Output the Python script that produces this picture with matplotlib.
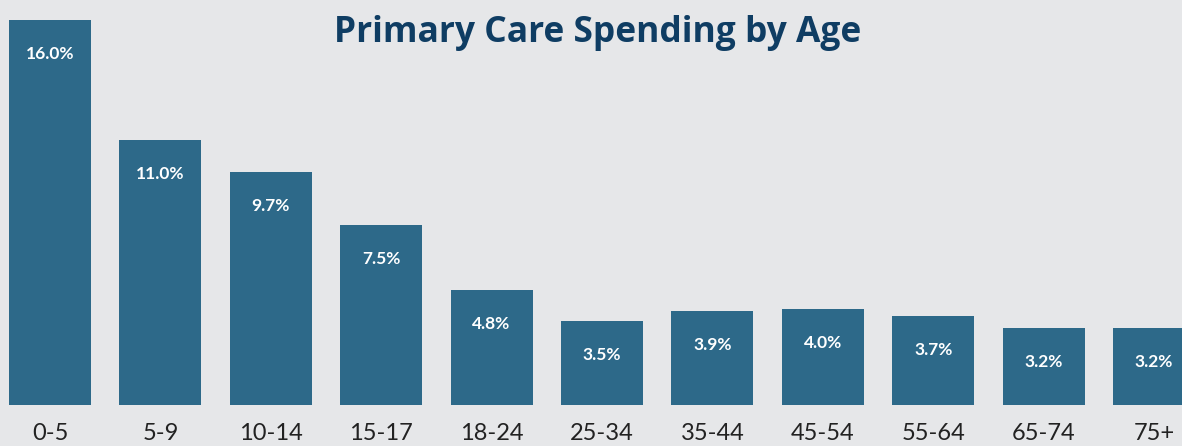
import matplotlib
matplotlib.use("Agg")
import matplotlib.pyplot as plt
import numpy as np

# Datos
edades = ['0-5', '5-9', '10-14', '15-17', '18-24', '25-34', '35-44',
          '45-54', '55-64', '65-74', '75+']
gasto = [16.0, 11.0, 9.7, 7.5, 4.8, 3.5, 3.9, 4.0, 3.7, 3.2, 3.2]

fondo = '#e6e7e9'
color_barra = '#2d6989'

fig = plt.figure(figsize=(11.82, 4.46), dpi=100, facecolor=fondo)
ax = fig.add_axes([0, 41 / 446, 1, 405 / 446])
ax.set_facecolor(fondo)

x = np.arange(len(edades))
ax.bar(x, gasto, width=0.743, color=color_barra)

# Etiquetas dentro de las barras
for xi, v in zip(x, gasto):
    ax.annotate(f'{v:.1f}%', xy=(xi, v), xytext=(0, -34), textcoords='offset pixels',
                ha='center', va='center', color='white', fontsize=12.5,
                fontweight='bold', family='Lato')

ax.set_xlim(-50 / 110.4, (1182 - 50) / 110.4)
ax.set_ylim(0, 405 / 24.06)
ax.set_xticks(x)
ax.set_xticklabels(edades, fontsize=17, color='#222222', family='Lato')
ax.tick_params(axis='x', length=0, pad=13)
ax.set_yticks([])
for s in ax.spines.values():
    s.set_visible(False)

fig.text(598 / 1182, 1 - 33 / 446, 'Primary Care Spending by Age', ha='center', va='center',
         fontsize=25.5, fontweight='bold', color='#0f3d63', family='Open Sans')

plt.savefig('out.png', dpi=100, facecolor=fondo)
